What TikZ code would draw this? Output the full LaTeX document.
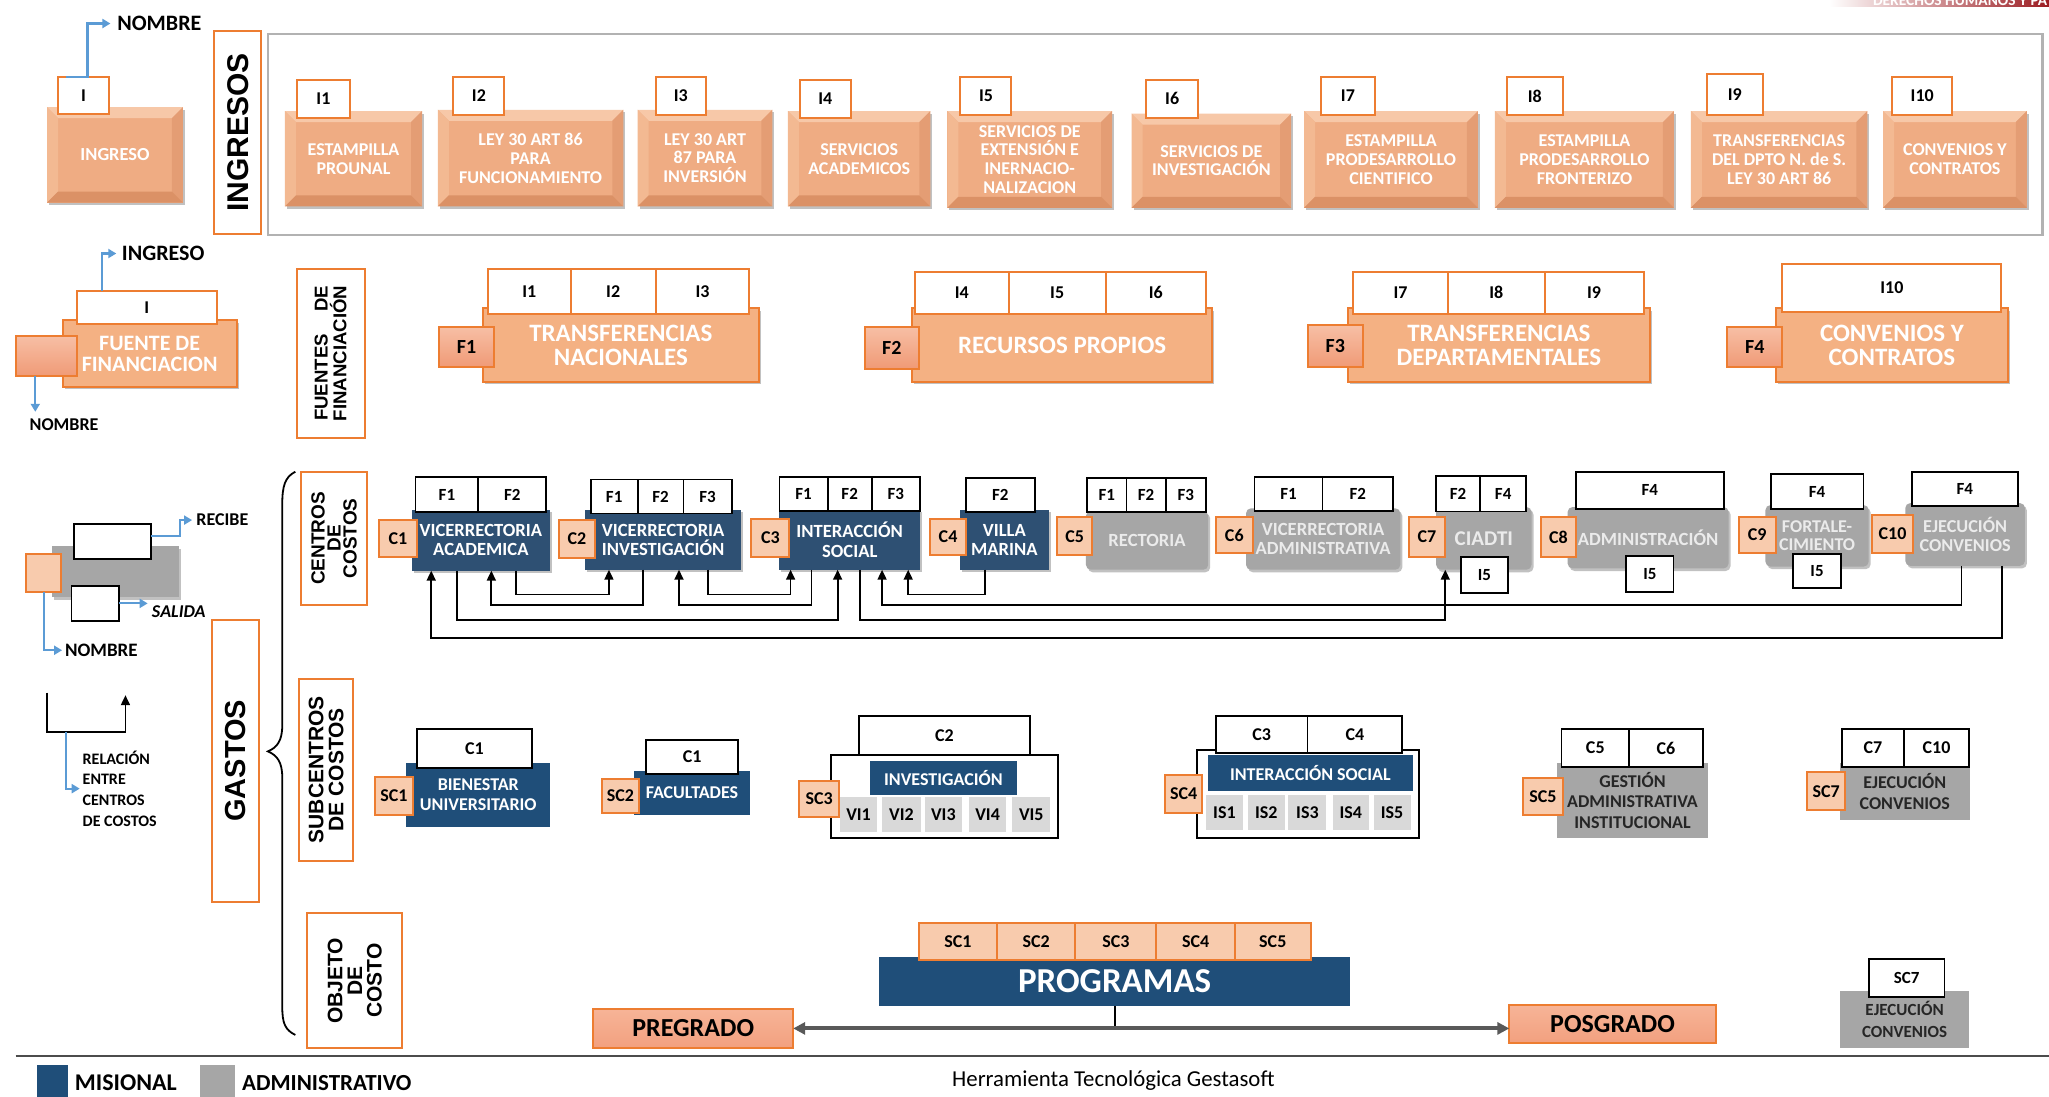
\documentclass[tikz,border=0pt]{standalone}
\usepackage{fontspec}
\setmainfont{Carlito}
\newfontfamily\arialf{Liberation Sans}
\usetikzlibrary{calc,arrows.meta,shadows}
\newlength\unitpx
\setlength\unitpx{0.6534pt}
\newcommand\fsz[2]{\fontsize{#1}{#2}\selectfont}
\newcommand\mk[7]{\node[#1,anchor=north west,inner sep=0pt,outer sep=0pt,minimum width={(#4-#2)*\unitpx},minimum height={(#5-#3)*\unitpx}] (#6) at (#2,#3) {#7};}
\newcommand\lnk[5]{\draw[conn] ($(#1.south west)+(#2,0)$) |- ($(#3.south west)+(#4,#5)$) -- ($(#3.south west)+(#4,0)$);}
\definecolor{orb}{HTML}{ED7D31}
\definecolor{pch}{HTML}{F4B183}
\definecolor{pchl}{HTML}{F8CBAD}
\definecolor{ibase}{HTML}{EFAC83}
\definecolor{itop}{HTML}{F7C8A8}
\definecolor{ileft}{HTML}{F3B992}
\definecolor{iright}{HTML}{E49D74}
\definecolor{ibot}{HTML}{DB9166}
\definecolor{fsqt}{HTML}{F7BFA5}
\definecolor{fsqb}{HTML}{F09A76}
\definecolor{dblue}{HTML}{2E5073}
\definecolor{nblue}{HTML}{1F4E79}
\definecolor{gry}{HTML}{A6A6A6}
\definecolor{lgry}{HTML}{D9D9D9}
\definecolor{bl}{HTML}{5B9BD5}
\definecolor{salt}{HTML}{F7B497}
\definecolor{salb}{HTML}{F2A07F}
\definecolor{hdr}{HTML}{9C1C22}
\tikzset{
 txt/.style={inner sep=0pt},
 shad/.style={drop shadow={shadow xshift=1pt,shadow yshift=-1.3pt,opacity=.4,fill=black!60}},
 ibody/.style={fill=ibase,text=white,align=center,font=\fsz{9}{9.4}\bfseries,shad,
   path picture={
     \coordinate (bvnw) at (path picture bounding box.north west);
     \coordinate (bvne) at (path picture bounding box.north east);
     \coordinate (bvsw) at (path picture bounding box.south west);
     \coordinate (bvse) at (path picture bounding box.south east);
     \fill[itop] (bvnw) -- (bvne) -- ([xshift=-5.5pt,yshift=-5.5pt]bvne) -- ([xshift=5.5pt,yshift=-5.5pt]bvnw) -- cycle;
     \fill[ileft] (bvnw) -- ([xshift=5.5pt,yshift=-5.5pt]bvnw) -- ([xshift=5.5pt,yshift=5.5pt]bvsw) -- (bvsw) -- cycle;
     \fill[iright] (bvne) -- ([xshift=-5.5pt,yshift=-5.5pt]bvne) -- ([xshift=-5.5pt,yshift=5.5pt]bvse) -- (bvse) -- cycle;
     \fill[ibot] (bvsw) -- ([xshift=5.5pt,yshift=5.5pt]bvsw) -- ([xshift=-5.5pt,yshift=5.5pt]bvse) -- (bvse) -- cycle;
   }},
 lblo/.style={draw=orb,line width=1pt,fill=white,font=\fsz{9}{10}\bfseries},
 fcell/.style={draw=orb,line width=1pt,fill=white,font=\fsz{9}{10}\bfseries},
 ccell/.style={draw=black,line width=0.9pt,fill=white,font=\fsz{8.5}{10}\bfseries},
 fbody/.style={draw=orb,line width=1pt,fill=pch,text=white,align=center,font=\fsz{12.5}{12}\bfseries,shad},
 fsq/.style={draw=orb,line width=1pt,top color=fsqt,bottom color=fsqb,font=\fsz{10}{10}\bfseries},
 csq/.style={draw=orb,line width=1pt,fill=pchl,font=\fsz{9}{10}\bfseries},
 cblue/.style={fill=dblue,text=white,align=center,font=\fsz{9.3}{9.6}\bfseries,shad},
 cgray/.style={fill=gry,rounded corners=2.5pt,text=white!92!black,align=center,font=\fsz{9.3}{9.6}\bfseries,shad},
 scblue/.style={fill=nblue,text=white,align=center,font=\fsz{9}{9.8}\bfseries},
 scgray/.style={fill=gry,text=black!85,align=center,font=\fsz{9}{10.4}\bfseries},
 cell/.style={fill=lgry,font=\fsz{9}{10}\bfseries},
 sec/.style={draw=orb,line width=1pt,fill=white},
 sect/.style={rotate=90,align=center,inner sep=0pt},
 conn/.style={line width=0.9pt,-{Triangle[length=5pt,width=4.5pt]}},
 barrow/.style={draw=bl,line width=1.1pt,-{Triangle[length=4pt,width=4.5pt]}},
}
\begin{document}
\begin{tikzpicture}[x=0.6534pt,y=-0.6534pt]
\useasboundingbox (0,0) rectangle (1568,839);
\fill[white] (0,0) rectangle (1568,839);

% header fragment
\shade[left color=white,right color=hdr] (1400,-3) rectangle (1568,5);
\node[txt,anchor=base west,text=white,font=\fsz{7.7}{8}\bfseries] (hdrt) at (1433,4) {DERECHOS HUMANOS Y PA};

% ===== legend: ingreso
\mk{ibody,font=\fsz{9.2}{10}\bfseries}{36}{82}{140}{155}{lgIb}{INGRESO}
\mk{lblo}{44.4}{59}{83.6}{87.5}{lgI}{I}
\node[txt,anchor=west,font=\fsz{11}{12}\bfseries] (nm1) at (89.5,18) {NOMBRE};
\draw[barrow] ($(lgI.north west)+(6,0)$) -- ($(lgI.north)+(3,0)$) |- ($(nm1.west)+(-5,0)$);

% ===== INGRESOS section
\mk{sec}{164}{24}{200}{179}{secI}{}
\node[sect,font=\arialf\bfseries\fsz{15}{15}] (secIt) at (secI.center) {INGRESOS};
\mk{draw=black!30,line width=1.2pt}{205}{26}{1563}{180}{frI}{}

\mk{ibody}{218}{85}{323}{158}{i1}{ESTAMPILLA\\PROUNAL}
\mk{ibody}{335}{84}{477}{158}{i2}{LEY 30 ART 86\\PARA\\FUNCIONAMIENTO}
\mk{ibody}{488}{84}{591}{158}{i3}{LEY 30 ART\\87 PARA\\INVERSIÓN}
\mk{ibody}{603}{85}{712}{158}{i4}{SERVICIOS\\ACADEMICOS}
\mk{ibody}{725}{85}{851}{159}{i5}{SERVICIOS DE\\EXTENSIÓN E\\INERNACIO-\\NALIZACION}
\mk{ibody}{866}{87}{988}{159}{i6}{SERVICIOS DE\\INVESTIGACIÓN}
\mk{ibody}{998}{85}{1131}{159}{i7}{ESTAMPILLA\\PRODESARROLLO\\CIENTIFICO}
\mk{ibody}{1144}{85}{1281}{159}{i8}{ESTAMPILLA\\PRODESARROLLO\\FRONTERIZO}
\mk{ibody}{1294}{85}{1429}{159}{i9}{TRANSFERENCIAS\\DEL DPTO N. de S.\\LEY 30 ART 86}
\mk{ibody}{1441}{85}{1551}{159}{i10}{CONVENIOS Y\\CONTRATOS}
\mk{lblo}{227}{61}{268}{90}{i1l}{I1}
\mk{lblo}{347}{59}{386}{88}{i2l}{I2}
\mk{lblo}{502}{59}{540}{88}{i3l}{I3}
\mk{lblo}{612}{61}{651}{90}{i4l}{I4}
\mk{lblo}{735}{59}{774}{88}{i5l}{I5}
\mk{lblo}{877}{61}{917}{90}{i6l}{I6}
\mk{lblo}{1011}{59}{1052}{88}{i7l}{I7}
\mk{lblo}{1153}{59}{1196}{88}{i8l}{I8}
\mk{lblo}{1306}{57}{1349}{88}{i9l}{I9}
\mk{lblo}{1448}{59}{1494}{88}{i10l}{I10}

% ===== legend: fuente
\mk{fbody,font=\fsz{11}{10.5}\bfseries}{48}{245}{181}{296}{lgF}{FUENTE DE\\FINANCIACION}
\mk{lblo}{58.6}{223}{166}{248}{lg2I}{I}
\mk{fsq}{12}{257}{58.6}{288}{lg2sq}{}
\node[txt,anchor=west,font=\fsz{11}{12}\bfseries] (ing2) at (93,194) {INGRESO};
\draw[barrow] ($(lg2I.north west)+(19.5,0)$) |- ($(ing2.west)+(-4,0)$);
\coordinate (a2) at ($(lg2sq.south west)+(15,0)$);
\node[txt,font=\fsz{9}{10}\bfseries] (nm2) at (49,325) {NOMBRE};
\draw[barrow] (a2) -- ($(a2 |- nm2.north)+(0,-5)$);

% ===== FUENTES section
\mk{sec}{227}{206}{279}{335}{secF}{}
\node[sect,font=\arialf\bfseries\fsz{9.3}{8}] (secFt) at (secF.center) {\makebox[67.5pt]{FUENTES\hfill DE}\\FINANCIACIÓN};

\mk{fbody}{369.4}{236}{580.8}{292}{f1}{TRANSFERENCIAS\\NACIONALES}
\mk{fcell}{373.4}{206}{436.8}{240}{f1a}{I1}
\mk{fcell}{436.8}{206}{501.7}{240}{f1b}{I2}
\mk{fcell}{501.7}{206}{573.5}{240}{f1c}{I3}
\mk{fsq}{336}{250}{378}{281}{f1s}{F1}

\mk{fbody}{698}{236}{927.6}{292}{f2}{RECURSOS PROPIOS}
\mk{fcell}{700}{208}{772}{240}{f2a}{I4}
\mk{fcell}{772}{208}{846}{240}{f2b}{I5}
\mk{fcell}{846}{208}{923}{240}{f2c}{I6}
\mk{fsq}{662}{250}{703}{282}{f2s}{F2}

\mk{fbody}{1031.5}{236}{1262.6}{292}{f3}{TRANSFERENCIAS\\DEPARTAMENTALES}
\mk{fcell}{1035.5}{208}{1108}{240}{f3a}{I7}
\mk{fcell}{1108}{208}{1182}{240}{f3b}{I8}
\mk{fcell}{1182}{208}{1257.7}{240}{f3c}{I9}
\mk{fsq}{1000.7}{249}{1043}{281}{f3s}{F3}

\mk{fbody}{1359}{236}{1536.6}{292}{f4}{CONVENIOS Y\\CONTRATOS}
\mk{fcell}{1364}{202}{1531.6}{239}{f4a}{I10}
\mk{fsq}{1321.6}{250}{1364}{281}{f4s}{F4}

% ===== legend: centro
\mk{fill=gry,shad}{40}{418}{137}{457}{lg3g}{}
\mk{fill=white,draw=black,line width=0.9pt}{56.4}{401}{115.5}{428}{lg3a}{}
\mk{fill=white,draw=black,line width=0.9pt}{54.7}{448.5}{91}{475}{lg3b}{}
\mk{csq}{20}{424}{47}{453}{lg3sq}{}
\node[txt,anchor=west,font=\fsz{9}{10}\bfseries] (rec) at (150,398) {RECIBE};
\draw[barrow] ($(lg3a.north east)+(0,9)$) -| ($(rec.west)+(-12,0)$) -- ($(rec.west)+(-3,0)$);
\node[txt,anchor=west,font=\fsz{9}{10}\bfseries\itshape] (sal) at (116,468) {SALIDA};
\draw[barrow] (lg3b.east) -- ($(lg3b.east -| sal.west)+(-3,0)$);
\node[txt,anchor=west,font=\fsz{9.5}{10}\bfseries] (nm3) at (49.5,497.6) {NOMBRE};
\draw[barrow] (lg3sq.south) |- ($(nm3.west)+(-2,0)$);

% legend: relacion
\coordinate (r1) at (36,530);
\coordinate (r2) at (96,532);
\draw[conn] (r1) |- ($(r2)+(0,28)$) -- (r2);
\coordinate (r3) at (50.6,560);
\node[txt,anchor=west,align=left,font=\fsz{8}{10.4}\bfseries] (rel) at (63,603.5) {RELACIÓN\\ENTRE\\CENTROS\\DE COSTOS};
\draw[barrow] (r3) |- ($(rel.west)+(-2,0)$);

% ===== GASTOS and brace
\mk{sec}{162.4}{474.5}{198}{690}{secG}{}
\node[sect,font=\arialf\bfseries\fsz{14.5}{15}] (secGt) at (secG.center) {GASTOS};
\draw[line width=0.9pt] (226,361) .. controls (218,365) and (216,372) .. (216,386) -- (216,555) .. controls (216,567) and (212,572) .. (205,575) .. controls (212,578) and (216,583) .. (216,595) -- (216,770) .. controls (216,783) and (218,788) .. (226,792);

% ===== CENTROS DE COSTOS
\mk{sec}{230.6}{361}{280.8}{463}{secC}{}
\node[sect,font=\arialf\bfseries\fsz{9.5}{8}] (secCt) at (secC.center) {CENTROS\\DE\\COSTOS};

\mk{cblue}{315}{390}{421}{436.7}{c1}{VICERRECTORIA\\ACADEMICA}
\mk{ccell}{318}{365}{366}{392}{c1a}{F1}
\mk{ccell}{366}{365}{418}{392}{c1b}{F2}
\mk{csq}{290}{398}{319}{426}{c1s}{C1}

\mk{cblue}{448}{390}{567}{436}{c2}{VICERRECTORIA\\INVESTIGACIÓN}
\mk{ccell}{452}{367}{488}{393}{c2a}{F1}
\mk{ccell}{488}{367}{523}{393}{c2b}{F2}
\mk{ccell}{523}{367}{560}{393}{c2c}{F3}
\mk{csq}{428}{398}{455}{427}{c2s}{C2}

\mk{cblue}{596.5}{390}{704}{436}{c3}{INTERACCIÓN\\SOCIAL}
\mk{ccell}{596.5}{365}{633.4}{391}{c3a}{F1}
\mk{ccell}{633.4}{365}{667}{391}{c3b}{F2}
\mk{ccell}{667}{365}{704}{391}{c3c}{F3}
\mk{csq}{575}{397}{604}{426}{c3s}{C3}

\mk{cblue}{734.6}{390}{802.5}{436}{c4}{VILLA\\MARINA}
\mk{ccell}{739}{366}{792}{392}{c4a}{F2}
\mk{csq}{712}{397}{739}{425}{c4s}{C4}

\mk{cgray}{831}{391}{924.6}{436}{c5}{RECTORIA}
\mk{ccell}{832}{366}{862}{392}{c5a}{F1}
\mk{ccell}{862}{366}{892}{392}{c5b}{F2}
\mk{ccell}{892}{366}{923}{392}{c5c}{F3}
\mk{csq}{809}{396}{835.7}{425}{c5s}{C5}

\mk{cgray}{953.5}{389}{1071.6}{436}{c6}{VICERRECTORIA\\ADMINISTRATIVA}
\mk{ccell}{960}{365}{1012}{391}{c6a}{F1}
\mk{ccell}{1012}{365}{1066}{391}{c6b}{F2}
\mk{csq}{930.5}{396}{958.6}{423}{c6s}{C6}

\mk{cgray,font=\fsz{10.5}{10}\bfseries}{1099}{388}{1172}{436}{c7}{CIADTI}
\mk{ccell}{1099}{364}{1132.6}{391.5}{c7a}{F2}
\mk{ccell}{1132.6}{364}{1168}{391.5}{c7b}{F4}
\mk{csq}{1078}{396}{1106}{426}{c7s}{C7}
\mk{ccell}{1118}{426}{1154}{454}{c7i}{I5}

\mk{cgray}{1199.6}{388}{1322.8}{435}{c8}{ADMINISTRACIÓN}
\mk{ccell}{1206}{361}{1319}{389.6}{c8a}{F4}
\mk{csq}{1179}{396}{1206}{426}{c8s}{C8}
\mk{ccell}{1244.5}{425.5}{1280.7}{452.8}{c8i}{I5}

\mk{cgray,font=\fsz{9}{9.3}\bfseries}{1351}{386.5}{1430}{433.6}{c9}{FORTALE-\\CIMIENTO}
\mk{ccell}{1355}{363}{1426}{389.6}{c9a}{F4}
\mk{csq}{1330.5}{396}{1359}{423}{c9s}{C9}
\mk{ccell}{1372}{424}{1409}{450}{c9i}{I5}

\mk{cgray,font=\fsz{9.1}{9.6}\bfseries}{1458}{385}{1549.6}{433}{c10}{EJECUCIÓN\\CONVENIOS}
\mk{ccell}{1463}{361}{1544}{387}{c10a}{F4}
\mk{csq}{1432.5}{394}{1464}{423}{c10s}{C10}

% connectors between cost centres
\lnk{c1}{79.6}{c2}{18}{19}
\lnk{c2}{93.8}{c3}{8.5}{19}
\lnk{c4}{19.4}{c3}{98.5}{19}
\lnk{c2}{44}{c1}{61}{26.3}
\lnk{c3}{24.5}{c2}{71.6}{27}
\lnk{c10}{43}{c3}{78.5}{27}
\lnk{c1}{35}{c3}{44.5}{38.5}
\lnk{c3}{61.5}{c7}{7}{38.5}
\lnk{c10}{74}{c1}{15}{51.3}

% ===== SUBCENTROS
\mk{sec}{229}{519.6}{270}{658.6}{secS}{}
\node[sect,font=\arialf\bfseries\fsz{10.5}{10}] (secSt) at (secS.center) {SUBCENTROS\\DE COSTOS};

\mk{scblue}{311}{584}{421}{632.6}{s1}{BIENESTAR\\UNIVERSITARIO}
\mk{ccell,font=\fsz{9}{10}\bfseries}{319}{558}{407}{588}{s1a}{C1}
\mk{csq}{287}{594.7}{316}{623.7}{s1s}{SC1}

\mk{scblue}{485}{590}{574}{623.6}{s2}{FACULTADES}
\mk{ccell,font=\fsz{9}{10}\bfseries}{494.5}{566}{565}{592}{s2a}{C1}
\mk{csq}{460.5}{596}{489}{622}{s2s}{SC2}

\mk{fill=white,draw=black,line width=0.9pt}{636}{577.8}{809.5}{641}{s3}{}
\mk{ccell,font=\fsz{9}{10}\bfseries}{657.6}{548}{788}{577.8}{s3a}{C2}
\mk{scblue}{665.6}{582.4}{778.3}{608.4}{s3b}{INVESTIGACIÓN}
\mk{cell}{643}{610}{671}{636.4}{v1}{VI1}
\mk{cell}{674.8}{610}{704.8}{636.4}{v2}{VI2}
\mk{cell}{707.8}{610}{736}{636.4}{v3}{VI3}
\mk{cell}{741.5}{610}{770}{636.4}{v4}{VI4}
\mk{cell}{774.7}{610}{803.7}{636.4}{v5}{VI5}
\mk{csq}{611.8}{598}{641.9}{625}{s3s}{SC3}

\mk{fill=white,draw=black,line width=0.9pt}{915.7}{574}{1085.6}{641.5}{s4}{}
\mk{ccell,font=\fsz{9}{10}\bfseries}{930.4}{548}{1000.6}{576}{s4a}{C3}
\mk{ccell,font=\fsz{9}{10}\bfseries}{1000.6}{548}{1073}{576}{s4b}{C4}
\mk{scblue}{924.5}{578}{1081}{605}{s4c}{INTERACCIÓN SOCIAL}
\mk{cell}{923}{608.4}{951}{635}{is1}{IS1}
\mk{cell}{955}{608.4}{983}{635}{is2}{IS2}
\mk{cell}{986}{608.4}{1015}{635}{is3}{IS3}
\mk{cell}{1019.7}{608.4}{1047.6}{635}{is4}{IS4}
\mk{cell}{1051.2}{608.4}{1079.4}{635}{is5}{IS5}
\mk{csq}{891.6}{593}{920}{622}{s4s}{SC4}

\mk{scgray}{1191.6}{584}{1307}{641}{s5}{GESTIÓN\\ADMINISTRATIVA\\INSTITUCIONAL}
\mk{ccell,font=\fsz{9}{10}\bfseries}{1195}{558}{1246.6}{586.7}{s5a}{C5}
\mk{ccell,font=\fsz{9}{10}\bfseries}{1246.6}{558}{1303}{586.7}{s5b}{C6}
\mk{csq}{1165.5}{595}{1196}{623.7}{s5s}{SC5}

\mk{scgray}{1407.7}{584}{1507.5}{627.5}{s7}{EJECUCIÓN\\CONVENIOS}
\mk{ccell,font=\fsz{9}{10}\bfseries}{1409.6}{558}{1457}{586.7}{s7a}{C7}
\mk{ccell,font=\fsz{9}{10}\bfseries}{1457}{558}{1506.8}{586.7}{s7b}{C10}
\mk{csq}{1383}{591}{1412}{620}{s7s}{SC7}

% ===== OBJETO DE COSTO
\mk{sec}{235}{699}{308}{802}{secO}{}
\node[sect,font=\arialf\bfseries\fsz{10.5}{9.8}] (secOt) at (secO.center) {OBJETO\\DE\\COSTO};

\mk{fill=nblue,text=white,font=\fsz{17.5}{18}\bfseries}{673}{732}{1033}{770}{prog}{PROGRAMAS}
\mk{csq}{703}{706}{763}{735}{p1}{SC1}
\mk{csq}{763}{706}{823}{735}{p2}{SC2}
\mk{csq}{823}{706}{885}{735}{p3}{SC3}
\mk{csq}{885}{706}{945}{735}{p4}{SC4}
\mk{csq}{945}{706}{1003}{735}{p5}{SC5}

\mk{draw=orb,line width=1pt,top color=salt,bottom color=salb,font=\fsz{13}{13}\bfseries}{454}{772}{607}{802}{pre}{PREGRADO}
\mk{draw=orb,line width=1pt,top color=salt,bottom color=salb,font=\fsz{13}{13}\bfseries}{1155}{769}{1313}{798}{pos}{POSGRADO}
\draw[line width=0.9pt] (prog.south) -- (prog.south |- pre.east);
\draw[line width=2pt,black!65,{Triangle[length=6pt,width=6pt]}-{Triangle[length=6pt,width=6pt]}] (pre.east) -- (pre.east -| pos.west);

\mk{scgray,font=\fsz{8.5}{11}\bfseries}{1408}{758}{1507}{802}{o7}{EJECUCIÓN\\CONVENIOS}
\mk{ccell}{1430}{734}{1488}{763}{o7a}{SC7}

% ===== footer
\draw[black!70,line width=1.3pt] (12,808) -- (1568,808);
\mk{fill=nblue}{28}{815}{52}{845}{legM}{}
\mk{fill=gry}{153}{815}{180}{845}{legA}{}
\node[txt,anchor=west,font=\fsz{12}{12}\bfseries] (legMt) at (57,828.5) {MISIONAL};
\node[txt,anchor=west,font=\fsz{11.5}{12}\bfseries] (legAt) at (185,828.5) {ADMINISTRATIVO};
\node[txt,font=\fsz{11.4}{12}] (tool) at (852,827) {Herramienta Tecnológica Gestasoft};
\end{tikzpicture}
\end{document}
